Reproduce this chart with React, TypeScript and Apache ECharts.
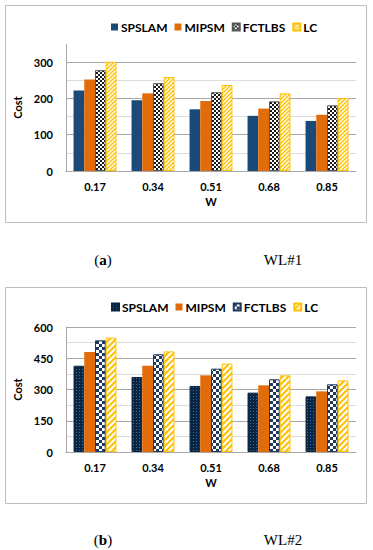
import React, { useEffect, useRef } from 'react';
import * as echarts from 'echarts';

const categories = ['0.17', '0.34', '0.51', '0.68', '0.85'];
const seriesNames = ['SPSLAM', 'MIPSM', 'FCTLBS', 'LC'];

const wl1SPSLAM = [222, 195, 170, 152, 138];
const wl1MIPSM = [252, 214, 193, 172, 155];
const wl1FCTLBS = [278, 242, 217, 192, 181];
const wl1LC = [301, 259, 237, 214, 201];

const wl2SPSLAM = [414, 360, 317, 285, 267];
const wl2MIPSM = [480, 414, 368, 320, 291];
const wl2FCTLBS = [536, 469, 400, 349, 325];
const wl2LC = [549, 483, 424, 368, 344];

const wl1Max = 350;
const wl1Step = 50;
const wl1LabelStep = 100;
const wl2Max = 600;
const wl2Step = 75;
const wl2LabelStep = 150;

const FONT = 'Lato';
const NAVY = '#1B4A78';
const ORANGE = '#E36C0A';
const YELLOW = '#FFC000';
const GRID_DARK = '#A8A8A8';
const GRID_LIGHT = '#DCDCDC';
const CAT_GAP = 0.26;

function makePattern(w: number, h: number, draw: (ctx: CanvasRenderingContext2D) => void) {
  const c = document.createElement('canvas');
  c.width = w;
  c.height = h;
  const ctx = c.getContext('2d') as CanvasRenderingContext2D;
  draw(ctx);
  return { image: c.toDataURL(), imageWidth: w, imageHeight: h, repeat: 'repeat' };
}

function checker(size: number, fg: string, bg: string) {
  return makePattern(size * 2, size * 2, (ctx) => {
    ctx.fillStyle = bg;
    ctx.fillRect(0, 0, size * 2, size * 2);
    ctx.fillStyle = fg;
    ctx.fillRect(0, 0, size, size);
    ctx.fillRect(size, size, size, size);
  });
}

function stripes(period: number, lw: number, fg: string, bg: string) {
  return makePattern(period, period, (ctx) => {
    ctx.fillStyle = bg;
    ctx.fillRect(0, 0, period, period);
    ctx.strokeStyle = fg;
    ctx.lineWidth = lw;
    for (let k = -1; k <= 1; k++) {
      ctx.beginPath();
      ctx.moveTo(-1 + k * period, period + 1);
      ctx.lineTo(period + 1 + k * period, -1);
      ctx.stroke();
    }
  });
}

function dots() {
  return makePattern(3, 3, (ctx) => {
    ctx.fillStyle = '#0B2440';
    ctx.fillRect(0, 0, 3, 3);
    ctx.fillStyle = '#2F6FB5';
    ctx.fillRect(1, 1, 1, 1);
  });
}

function gridColors(max: number, step: number, labelStep: number) {
  const arr: string[] = [];
  for (let v = 0; v <= max; v += step) {
    if (v === max && v % labelStep !== 0) arr.push('rgba(0,0,0,0)');
    else arr.push(v % labelStep === 0 ? GRID_DARK : GRID_LIGHT);
  }
  return arr;
}

function baseOption(max: number, step: number, labelStep: number, gridTop: number, gridBottom: number, legendTop: number) {
  return {
    animation: false,
    textStyle: { fontFamily: FONT },
    legend: {
      top: legendTop,
      left: 106,
      data: seriesNames,
      icon: 'rect',
      itemWidth: 7,
      itemHeight: 7,
      itemGap: 7,
      textStyle: { fontFamily: FONT, fontWeight: 'bold', fontSize: 12, color: '#000', padding: [0, 0, 0, -2] },
    },
    grid: { left: 66, right: 17, top: gridTop, bottom: gridBottom },
    xAxis: {
      type: 'category',
      data: categories,
      name: 'W',
      nameLocation: 'middle',
      nameGap: 25,
      nameTextStyle: { fontFamily: FONT, fontWeight: 'bold', fontSize: 11, color: '#000' },
      axisLine: { lineStyle: { color: GRID_DARK } },
      axisTick: { show: false },
      axisLabel: { fontFamily: FONT, fontWeight: 'bold', fontSize: 11, color: '#000', margin: 10 },
    },
    yAxis: {
      type: 'value',
      min: 0,
      max,
      interval: step,
      name: 'Cost',
      nameLocation: 'middle',
      nameGap: 29,
      nameRotate: 90,
      nameTextStyle: { fontFamily: FONT, fontWeight: 'bold', fontSize: 11, color: '#000' },
      axisLine: { show: true, lineStyle: { color: GRID_DARK } },
      axisTick: { show: false },
      axisLabel: {
        fontFamily: FONT,
        fontWeight: 'bold',
        fontSize: 11,
        color: '#000',
        margin: 13,
        formatter: (v: number) => (v % labelStep === 0 ? String(v) : ''),
      },
      splitLine: { show: true, lineStyle: { color: gridColors(max, step, labelStep), width: 1 } },
    },
  };
}

function frameAndCaption(frameTop: number, frameH: number, capY: number, letter: string, wl: string) {
  return [
    {
      type: 'rect',
      shape: { x: 5.5, y: frameTop + 0.5, width: 361, height: frameH },
      style: { fill: 'none', stroke: '#BDBDBD', lineWidth: 1 },
      silent: true,
    },
    {
      type: 'text',
      x: 103,
      y: capY,
      style: {
        text: '{n|(}{b|' + letter + '}{n|)}',
        align: 'center',
        verticalAlign: 'middle',
        rich: {
          n: { fontFamily: 'Liberation Serif', fontSize: 15, fill: '#000' },
          b: { fontFamily: 'Liberation Serif', fontSize: 15, fontWeight: 'bold', fill: '#000' },
        },
      },
    },
    {
      type: 'text',
      x: 283,
      y: capY,
      style: {
        text: wl,
        align: 'center',
        verticalAlign: 'middle',
        fontFamily: 'Liberation Serif',
        fontSize: 15,
        fill: '#000',
      },
    },
  ];
}

function barSeries(name: string, data: number[], color: any, border?: string) {
  return {
    type: 'bar',
    name,
    data,
    barGap: '0%',
    barCategoryGap: CAT_GAP * 100 + '%',
    itemStyle: border ? { color, borderColor: border, borderWidth: 1 } : { color },
  };
}

function optionWL1() {
  const o: any = baseOption(wl1Max, wl1Step, wl1LabelStep, 44, 104, 16);
  o.series = [
    barSeries('SPSLAM', wl1SPSLAM, NAVY),
    barSeries('MIPSM', wl1MIPSM, ORANGE),
    barSeries('FCTLBS', wl1FCTLBS, checker(2, '#1A1A1A', '#FFFFFF'), '#555555'),
    barSeries('LC', wl1LC, stripes(4, 1.4, YELLOW, '#FFFFFF'), YELLOW),
  ];
  o.graphic = frameAndCaption(5, 217, 260, 'a', 'WL#1');
  return o;
}

function optionWL2() {
  const o: any = baseOption(wl2Max, wl2Step, wl2LabelStep, 52, 98, 21);
  o.series = [
    barSeries('SPSLAM', wl2SPSLAM, dots(), '#0B2440'),
    barSeries('MIPSM', wl2MIPSM, ORANGE),
    barSeries('FCTLBS', wl2FCTLBS, checker(3, '#1F3A5C', '#FFFFFF'), '#1F3A5C'),
    barSeries('LC', wl2LC, stripes(6, 2, YELLOW, '#FFFFFF'), YELLOW),
    {
      type: 'custom',
      name: 'mipsmDash',
      silent: true,
      data: wl2MIPSM.map((v, i) => [i, v]),
      renderItem: (_params: any, api: any) => {
        const idx = api.value(0);
        const val = api.value(1);
        const base = api.coord([idx, 0]);
        const top = api.coord([idx, val]);
        const band = api.size([1, 0])[0];
        const groupW = band * (1 - CAT_GAP);
        const barW = groupW / 4;
        const x = base[0] - groupW / 2 + barW * 1.5;
        return {
          type: 'line',
          shape: { x1: x, y1: top[1] + 3, x2: x, y2: base[1] },
          style: { stroke: '#111', lineWidth: 1.3, lineDash: [5, 3] },
        };
      },
    },
  ];
  o.graphic = frameAndCaption(12, 216, 265, 'b', 'WL#2');
  return o;
}

function Chart({ height, option }: { height: number; option: () => any }) {
  const ref = useRef<HTMLDivElement>(null);
  useEffect(() => {
    if (!ref.current) return;
    const chart = echarts.init(ref.current, undefined, { renderer: 'svg' });
    chart.setOption(option());
    return () => chart.dispose();
  }, []);
  return <div ref={ref} style={{ width: 373, height }} />;
}

export default function App() {
  return (
    <div style={{ position: 'fixed', left: 0, top: 0, width: 373, height: 550, background: '#fff' }}>
      <Chart height={275} option={optionWL1} />
      <Chart height={275} option={optionWL2} />
    </div>
  );
}
